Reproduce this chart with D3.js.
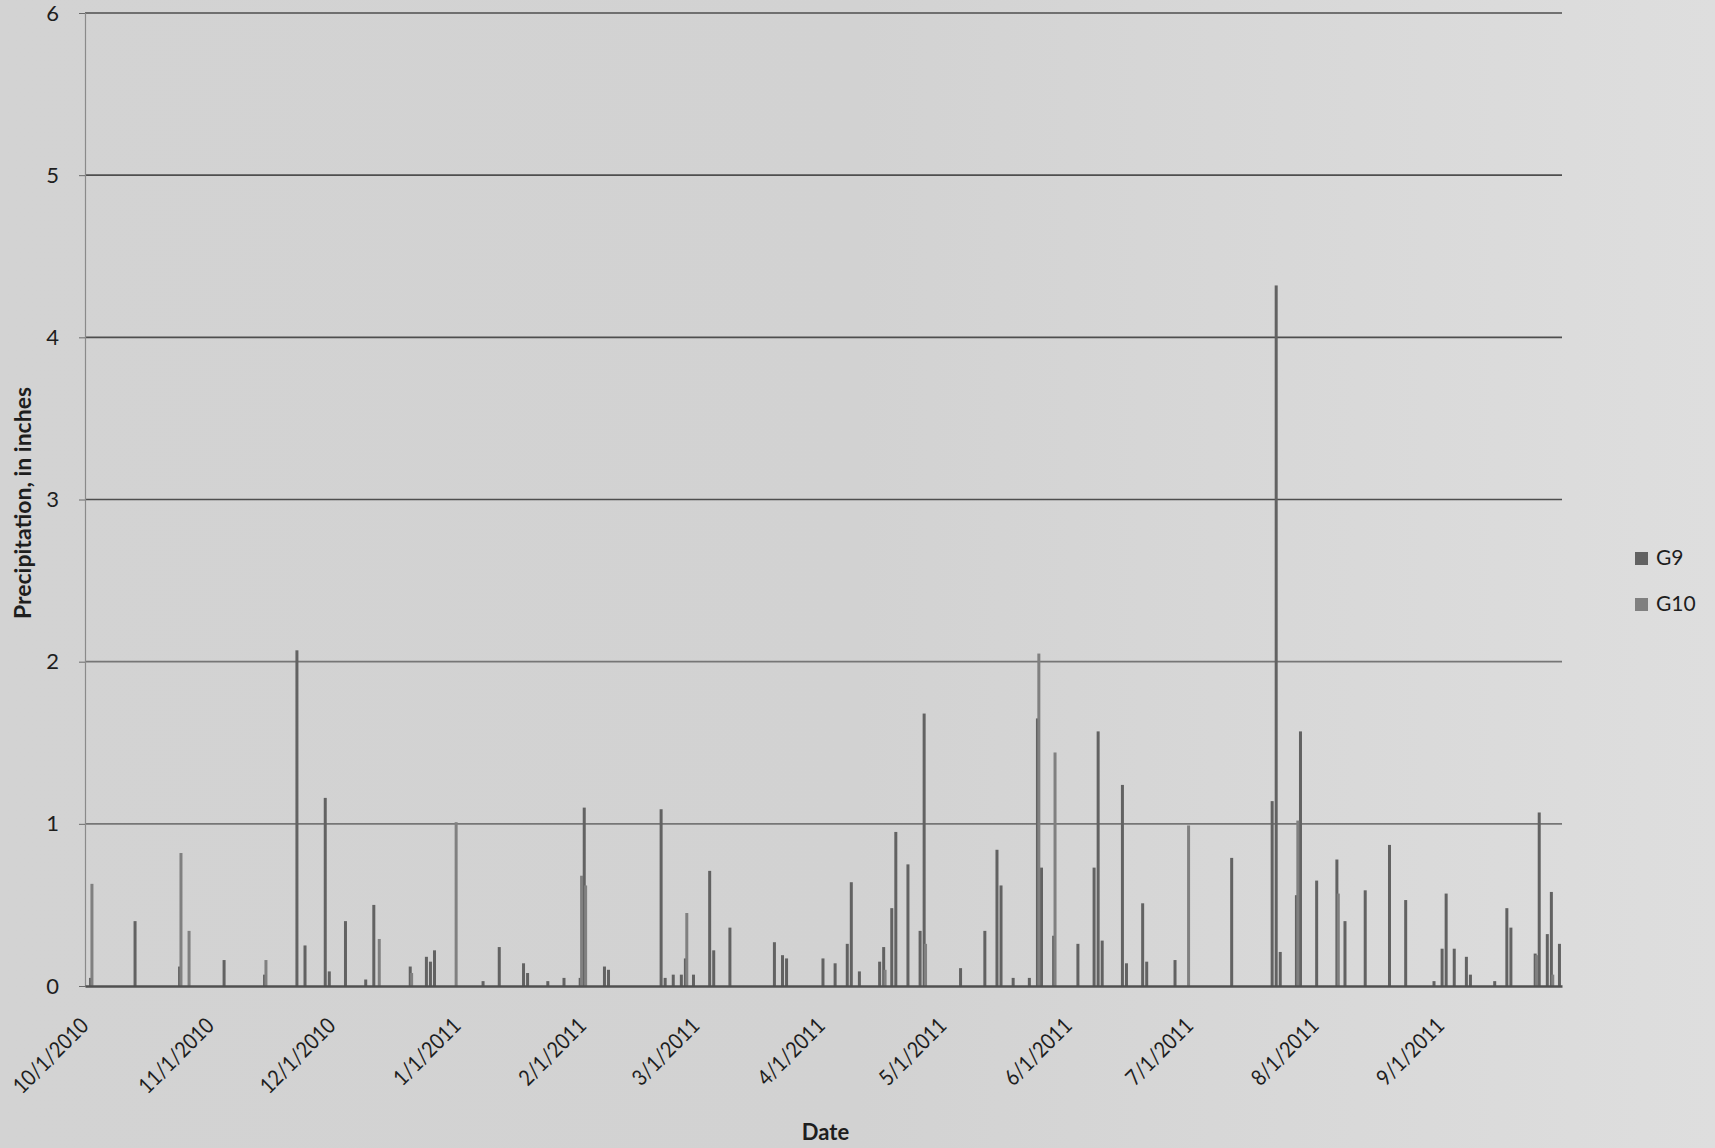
<!DOCTYPE html>
<html>
<head>
<meta charset="utf-8">
<script src="https://cdn.jsdelivr.net/npm/d3@7"></script>
<style>
  html, body { margin: 0; padding: 0; background: #d8d8d8; }
  svg { display: block; }
  text { font-family: Lato, "Open Sans", sans-serif; fill: #1e1e1e; }
</style>
</head>
<body>
<svg id="chart" width="1715" height="1148"></svg>
<script>
// ---------------- DATA ----------------
const seriesNames = ["G9", "G10"];
const eventDates = [
  "10/2/2010","10/13/2010","10/24/2010","10/26/2010","11/4/2010","11/14/2010","11/22/2010","11/24/2010",
  "11/29/2010","11/30/2010","12/4/2010","12/9/2010","12/11/2010","12/12/2010","12/20/2010","12/24/2010",
  "12/25/2010","12/26/2010","12/31/2010","1/7/2011","1/11/2011","1/17/2011","1/18/2011","1/23/2011",
  "1/27/2011","1/31/2011","2/1/2011","2/6/2011","2/7/2011","2/20/2011","2/21/2011","2/23/2011",
  "2/25/2011","2/26/2011","2/28/2011","3/4/2011","3/5/2011","3/9/2011","3/20/2011","3/22/2011",
  "3/23/2011","4/1/2011","4/4/2011","4/7/2011","4/8/2011","4/10/2011","4/15/2011","4/16/2011",
  "4/18/2011","4/19/2011","4/22/2011","4/25/2011","4/26/2011","5/5/2011","5/11/2011","5/14/2011",
  "5/15/2011","5/18/2011","5/22/2011","5/24/2011","5/25/2011","5/28/2011","6/3/2011","6/7/2011",
  "6/8/2011","6/9/2011","6/14/2011","6/15/2011","6/19/2011","6/20/2011","6/27/2011","6/30/2011",
  "7/11/2011","7/21/2011","7/22/2011","7/23/2011","7/27/2011","7/28/2011","8/1/2011","8/6/2011",
  "8/8/2011","8/13/2011","8/19/2011","8/23/2011","8/30/2011","9/1/2011","9/2/2011","9/4/2011",
  "9/7/2011","9/8/2011","9/14/2011","9/17/2011","9/18/2011","9/24/2011","9/25/2011","9/27/2011",
  "9/28/2011","9/30/2011"
];
const g9Values = [
  0.05,0.40,0.12,0.00,0.16,0.07,2.07,0.25,
  1.16,0.09,0.40,0.04,0.50,0.00,0.12,0.18,
  0.15,0.22,0.00,0.03,0.24,0.14,0.08,0.03,
  0.05,0.05,1.10,0.12,0.10,1.09,0.05,0.07,
  0.07,0.17,0.07,0.71,0.22,0.36,0.27,0.19,
  0.17,0.17,0.14,0.26,0.64,0.09,0.15,0.24,
  0.48,0.95,0.75,0.34,1.68,0.11,0.34,0.84,
  0.62,0.05,0.05,1.65,0.73,0.31,0.26,0.73,
  1.57,0.28,1.24,0.14,0.51,0.15,0.16,0.00,
  0.79,1.14,4.32,0.21,0.56,1.57,0.65,0.78,
  0.40,0.59,0.87,0.53,0.03,0.23,0.57,0.23,
  0.18,0.07,0.03,0.48,0.36,0.20,1.07,0.32,
  0.58,0.26
];
const g10Values = [
  0.63,0.00,0.82,0.34,0.00,0.16,0.00,0.00,
  0.00,0.00,0.00,0.00,0.00,0.29,0.08,0.00,
  0.00,0.00,1.01,0.00,0.00,0.00,0.00,0.00,
  0.00,0.68,0.62,0.00,0.00,0.00,0.00,0.00,
  0.00,0.45,0.00,0.00,0.00,0.00,0.00,0.00,
  0.00,0.00,0.00,0.00,0.00,0.00,0.00,0.10,
  0.00,0.00,0.00,0.00,0.26,0.00,0.00,0.00,
  0.00,0.00,0.00,2.05,0.00,1.44,0.00,0.00,
  0.00,0.00,0.00,0.00,0.00,0.00,0.00,0.99,
  0.00,0.00,0.00,0.00,1.02,0.00,0.00,0.57,
  0.00,0.00,0.00,0.00,0.00,0.00,0.00,0.00,
  0.00,0.00,0.00,0.00,0.00,0.19,0.00,0.00,
  0.07,0.00
];
const yTickValues = [0, 1, 2, 3, 4, 5, 6];
const xTickLabels = ["10/1/2010","11/1/2010","12/1/2010","1/1/2011","2/1/2011","3/1/2011",
                     "4/1/2011","5/1/2011","6/1/2011","7/1/2011","8/1/2011","9/1/2011"];
const xTitle = "Date";
const yTitle = "Precipitation, in inches";

// ---------------- BUILD ----------------
const parse = d3.timeParse("%m/%d/%Y");
const fmt = d => `${d.getMonth() + 1}/${d.getDate()}/${d.getFullYear()}`;
const categories = d3.timeDay.range(parse("10/1/2010"), parse("10/1/2011")).map(fmt);

const valueMap = new Map();
eventDates.forEach((d, i) => valueMap.set(d, { G9: g9Values[i], G10: g10Values[i] }));
const rows = categories.map(c => ({ date: c, G9: valueMap.has(c) ? valueMap.get(c).G9 : 0, G10: valueMap.has(c) ? valueMap.get(c).G10 : 0 }));

const svg = d3.select("#chart");
const W = 1715, H = 1148;
const plot = { left: 85, right: 1562, top: 13, bottom: 986 };

// scanned-paper background
const defs = svg.append("defs");
const grad = defs.append("linearGradient").attr("id", "paper").attr("x1", "0").attr("x2", "1").attr("y1", "0").attr("y2", "0");
grad.append("stop").attr("offset", "0").attr("stop-color", "#d3d3d3");
grad.append("stop").attr("offset", "0.5").attr("stop-color", "#d2d2d2");
grad.append("stop").attr("offset", "1").attr("stop-color", "#dedede");
svg.append("rect").attr("width", W).attr("height", H).attr("fill", "url(#paper)");

const x = d3.scaleBand().domain(categories).range([plot.left, plot.right]).paddingInner(0).paddingOuter(0);
const xs = d3.scalePoint().domain(seriesNames).range([0.0, 1.4]);
const barW = 3.0;
const y = d3.scaleLinear().domain([0, 6]).range([plot.bottom, plot.top]);
const colors = d3.scaleOrdinal().domain(seriesNames).range(["#626262", "#808080"]);

// gridlines
const gridColor = v => (v === 1 || v === 2) ? "#767676" : "#4e4e4e";
svg.append("g").selectAll("line").data(yTickValues.filter(v => v > 0)).join("line")
  .attr("x1", plot.left).attr("x2", plot.right)
  .attr("y1", d => y(d)).attr("y2", d => y(d))
  .attr("stroke", gridColor).attr("stroke-width", 1.7);

// y axis
const yAxis = svg.append("g").attr("transform", `translate(${plot.left},0)`)
  .call(d3.axisLeft(y).tickValues(yTickValues).tickSize(6).tickPadding(20).tickFormat(d3.format("d")));
yAxis.select(".domain").attr("stroke", "#8a8a8a").attr("stroke-width", 1.2);
yAxis.selectAll(".tick line").attr("stroke", "#6a6a6a");
yAxis.selectAll(".tick text").attr("font-size", 22).attr("fill", "#1e1e1e")
  .attr("font-family", "Lato, 'Open Sans', sans-serif");

// bars
const bars = svg.append("g");
seriesNames.forEach(s => {
  bars.append("g").selectAll("rect").data(rows.filter(r => r[s] > 0)).join("rect")
    .attr("x", d => x(d.date) + xs(s))
    .attr("width", barW)
    .attr("y", d => y(d[s]))
    .attr("height", d => y(0) - y(d[s]))
    .attr("fill", colors(s));
});

// x axis
const xAxis = svg.append("g").attr("transform", `translate(0,${plot.bottom})`)
  .call(d3.axisBottom(x).tickValues(xTickLabels).tickSize(0).tickFormat(d => d));
xAxis.select(".domain").attr("stroke", "#505050").attr("stroke-width", 2.4);
xAxis.selectAll(".tick text")
  .attr("font-size", 22).attr("fill", "#1e1e1e")
  .attr("font-family", "Lato, 'Open Sans', sans-serif")
  .attr("text-anchor", "end")
  .attr("dy", null).attr("y", 0)
  .attr("transform", "translate(3,41) rotate(-45) scale(0.88,1)");

// axis titles
svg.append("text").attr("x", (plot.left + plot.right) / 2 + 2).attr("y", 1140)
  .attr("text-anchor", "middle").attr("font-size", 22).attr("font-weight", "bold").text(xTitle);
svg.append("text").attr("transform", `translate(31,503) rotate(-90)`)
  .attr("text-anchor", "middle").attr("font-size", 23).attr("font-weight", "bold").text(yTitle);

// legend
const legend = svg.append("g").attr("transform", "translate(1635,552)");
seriesNames.forEach((s, i) => {
  const g = legend.append("g").attr("transform", `translate(0,${i * 46})`);
  g.append("rect").attr("width", 13).attr("height", 13).attr("fill", colors(s));
  g.append("text").attr("x", 21).attr("y", 13).attr("font-size", 21).text(s);
});
</script>
</body>
</html>
